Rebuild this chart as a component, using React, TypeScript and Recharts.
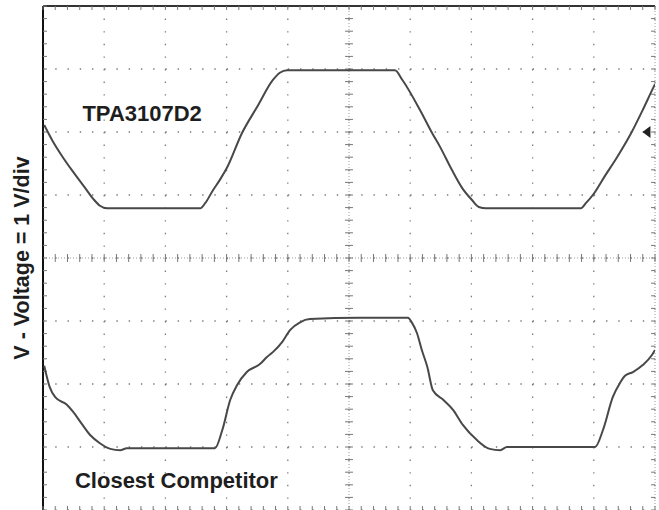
import {
  LineChart, Line, XAxis, YAxis, CartesianGrid, ReferenceLine, ReferenceDot,
} from "recharts";

// time in divisions (10 div across), voltage in divisions (1 V/div, 8 div tall)
const tpaTime = [0.02, 0.15, 0.31, 0.49, 0.69, 0.82, 0.93, 1.05, 1.75, 2.57, 2.65, 2.78, 2.89, 3.01, 3.25, 3.5, 3.76, 3.87, 3.99, 4.2, 5.02, 5.75, 5.87, 6.16, 6.36, 6.49, 6.68, 6.85, 7.01, 7.12, 7.24, 7.96, 8.79, 8.87, 9.0, 9.18, 9.38, 9.62, 9.8, 9.97, 10.0];
const tpaVolt = [6.11, 5.87, 5.62, 5.37, 5.11, 4.94, 4.83, 4.79, 4.79, 4.79, 4.87, 5.08, 5.24, 5.44, 5.98, 6.4, 6.83, 6.94, 6.98, 6.98, 6.98, 6.98, 6.83, 6.35, 5.98, 5.76, 5.4, 5.11, 4.92, 4.81, 4.79, 4.79, 4.79, 4.87, 5.02, 5.3, 5.6, 6.0, 6.35, 6.7, 6.76];

const compTime = [0.02, 0.11, 0.2, 0.39, 0.49, 0.61, 0.77, 0.93, 1.1, 1.26, 1.37, 2.08, 2.81, 2.93, 3.06, 3.17, 3.33, 3.55, 3.66, 3.76, 3.91, 4.04, 4.2, 4.36, 5.18, 5.96, 6.03, 6.11, 6.19, 6.28, 6.37, 6.54, 6.7, 6.86, 7.09, 7.3, 7.47, 7.58, 8.28, 9.02, 9.15, 9.31, 9.43, 9.51, 9.64, 9.8, 9.95, 10.0];
const compVolt = [2.29, 1.95, 1.79, 1.67, 1.56, 1.4, 1.19, 1.06, 0.97, 0.95, 0.98, 0.98, 0.98, 1.27, 1.75, 1.98, 2.19, 2.32, 2.43, 2.51, 2.67, 2.86, 2.98, 3.03, 3.05, 3.05, 2.97, 2.81, 2.54, 2.27, 1.9, 1.75, 1.59, 1.35, 1.11, 0.97, 0.95, 1.0, 1.0, 1.0, 1.27, 1.79, 2.02, 2.13, 2.19, 2.3, 2.46, 2.54];

const majorX = [0, 1, 2, 3, 4, 5, 6, 7, 8, 9, 10];
const majorY = [0, 1, 2, 3, 4, 5, 6, 7, 8];
const minorX = Array.from({ length: 51 }, (_, i) => i / 5);
const minorY = Array.from({ length: 41 }, (_, i) => i / 5);

const tpaData = tpaTime.map((t, i) => ({ t, v: tpaVolt[i] }));
const compData = compTime.map((t, i) => ({ t, v: compVolt[i] }));

const FONT = "'Liberation Sans', Arial, sans-serif";
const TX = 0.065; // tick length in x divisions
const TY = 0.063; // tick length in y divisions

const labelStyle = { fontSize: 22, fontWeight: 700, fontFamily: FONT, fill: "#1e1e1e" };

const Marker = (props: any) => {
  const { cx, cy } = props;
  return <polygon points={`${cx - 4},${cy} ${cx + 4},${cy - 6} ${cx + 4},${cy + 6}`} fill="#222" />;
};

export default function App() {
  return (
    <div style={{ position: "absolute", left: 0, top: 0, background: "#fff" }}>
      <LineChart width={659} height={511} margin={{ top: 6, right: 4, bottom: 1, left: 43 }}>
        <XAxis type="number" dataKey="t" domain={[0, 10]} ticks={majorX} hide allowDataOverflow />
        <YAxis type="number" domain={[0, 8]} ticks={majorY} hide allowDataOverflow />
        <CartesianGrid horizontal={false} stroke="#7a7a7a" strokeWidth={1.3} strokeDasharray="1.4 11.2" />
        <CartesianGrid vertical={false} stroke="#7a7a7a" strokeWidth={1.3} strokeDasharray="1.4 10.84" />

        {/* centre cross and right edge: dense dotted lines with minor ticks */}
        <ReferenceLine y={4} stroke="#9a9a9a" strokeDasharray="1 2" />
        <ReferenceLine x={5} stroke="#9a9a9a" strokeDasharray="1 2" />
        <ReferenceLine x={10} stroke="#9a9a9a" strokeDasharray="1 2" />
        {minorX.map((x) => (
          <ReferenceLine key={`cx${x}`} segment={[{ x, y: 4 - TY }, { x, y: 4 + TY }]} stroke="#777" />
        ))}
        {minorY.map((y) => (
          <ReferenceLine key={`cy${y}`} segment={[{ x: 5 - TX, y }, { x: 5 + TX, y }]} stroke="#777" />
        ))}
        {minorY.map((y) => (
          <ReferenceLine key={`ry${y}`} segment={[{ x: 10 - TX, y }, { x: 10, y }]} stroke="#777" />
        ))}

        {/* solid borders with inward ticks */}
        <ReferenceLine y={8} stroke="#333" strokeWidth={2} />
        <ReferenceLine x={0} stroke="#111" strokeWidth={2} />
        {minorX.map((x) => (
          <ReferenceLine key={`tx${x}`} segment={[{ x, y: 8 }, { x, y: 8 - TY }]} stroke="#777" />
        ))}
        {minorX.map((x) => (
          <ReferenceLine key={`bx${x}`} segment={[{ x, y: 0 }, { x, y: TY }]} stroke="#777" />
        ))}
        {minorY.map((y) => (
          <ReferenceLine key={`ly${y}`} segment={[{ x: 0, y }, { x: TX, y }]} stroke="#777" />
        ))}

        <Line data={tpaData} dataKey="v" type="monotone" stroke="#484848" strokeWidth={2} dot={false} isAnimationActive={false} />
        <Line data={compData} dataKey="v" type="monotone" stroke="#484848" strokeWidth={2} dot={false} isAnimationActive={false} />

        <ReferenceDot x={9.86} y={6} r={5} shape={Marker} ifOverflow="visible" />
        <ReferenceDot x={1.62} y={6.3} r={0} fill="none" stroke="none" ifOverflow="visible"
          label={{ value: "TPA3107D2", position: "center", ...labelStyle }} />
        <ReferenceDot x={2.18} y={0.47} r={0} fill="none" stroke="none" ifOverflow="visible"
          label={{ value: "Closest Competitor", position: "center", ...labelStyle }} />
        <ReferenceDot x={-0.35} y={4} r={0} fill="none" stroke="none" ifOverflow="visible"
          label={{ value: "V - Voltage = 1 V/div", position: "center", angle: -90, ...labelStyle, fontSize: 21.5 }} />
      </LineChart>
    </div>
  );
}
